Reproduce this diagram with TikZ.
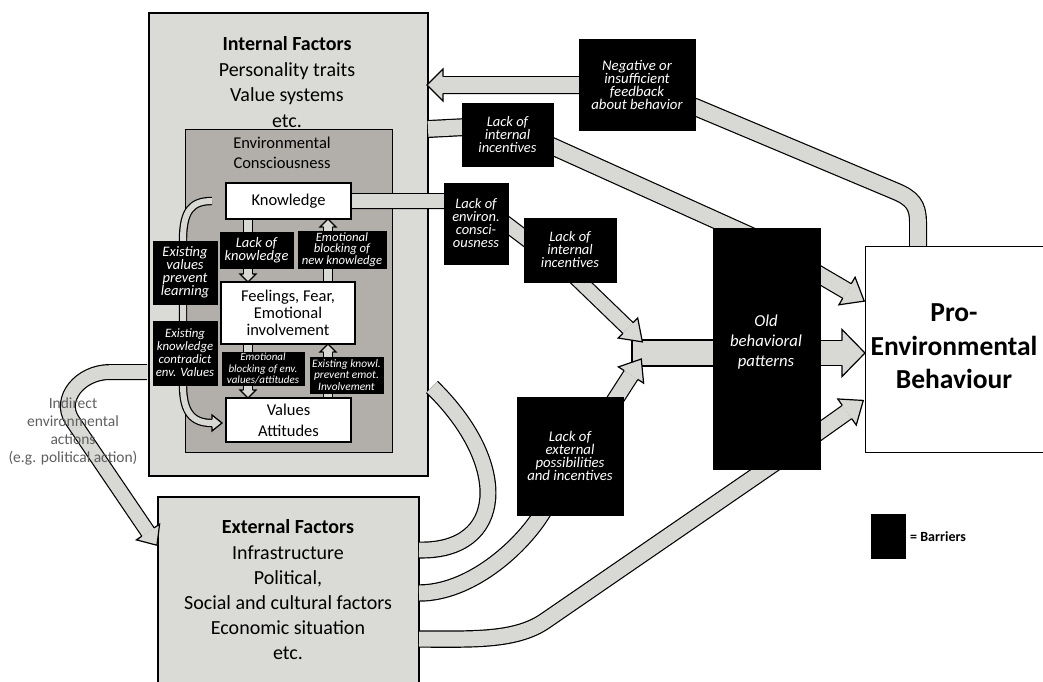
\documentclass[tikz,border=0pt]{standalone}
\usepackage{fontspec}
\setmainfont{Carlito}
\usetikzlibrary{decorations.markings}
\definecolor{boxgray}{RGB}{218,218,214}
\definecolor{ecgray}{RGB}{178,175,170}
\definecolor{arrowgray}{RGB}{216,216,212}
\definecolor{txtgray}{RGB}{95,95,95}
\newcommand\fsz[2]{\fontsize{#1}{#2}\selectfont}
\tikzset{
  head/.style n args={3}{postaction={decorate,decoration={markings,mark=at position 1 with {
    \fill[arrowgray] (0,-#1) -- (0,-#2) -- (#3,0) -- (0,#2) -- (0,#1) -- cycle;
    \draw[black,line width=1.2pt,line join=miter] (0,-#1) -- (0,-#2) -- (#3,0) -- (0,#2) -- (0,#1);}}}},
  barrier/.style={fill=black, draw=black, line width=0.6pt, text=white, align=center, inner sep=0pt},
  panel/.style={draw=black, line width=1.5pt, fill=boxgray, inner sep=0pt, anchor=north west},
  wbox/.style={draw=black, line width=1.3pt, fill=white, inner sep=0pt, align=center},
}
\newcommand\fat[3]{%
  \draw[line width=#1+2.4pt, black, line join=round] #3;
  \draw[line width=#1, arrowgray, line join=round, #2] #3;}
\begin{document}
\begin{tikzpicture}[x=1pt,y=-1pt]
\useasboundingbox (0,0) rectangle (1043,681);
\fill[white] (0,0) rectangle (1043,681);

% panels
\node[panel, minimum width=279pt, minimum height=463pt] (int) at (148,12) {};
\node[panel, minimum width=261pt, minimum height=210pt] (ext) at (157,496) {};
\node[panel, fill=ecgray, line width=1.3pt, minimum width=207pt, minimum height=323pt] (ec) at (185,129) {};

\node[align=center, font=\fsz{20}{25.5}] (intT) at (287,82) {\textbf{Internal Factors}\\Personality traits\\Value systems\\etc.};
\node[align=center, font=\fsz{16.5}{20}] (ecT) at (282,153) {Environmental\\Consciousness};
\node[align=center, font=\fsz{20}{25.2}] (extT) at (288,590) {\textbf{External Factors}\\Infrastructure\\Political,\\Social and cultural factors\\Economic situation\\etc.};

% internal arrows
\fat{7.6pt}{head={4.4pt}{8pt}{8pt}}{(248,219) -- (248,274)}
\fat{7.6pt}{head={4.4pt}{8pt}{8pt}}{(328,282) -- (328,227)}
\fat{7.6pt}{head={4.4pt}{8pt}{8pt}}{(248,344) -- (248,390)}
\fat{7.6pt}{head={4.4pt}{8pt}{8pt}}{(328,398) -- (328,352)}
\fat{6pt}{head={3.6pt}{8pt}{10pt}}{(183,270) -- (183,240) .. controls (183,210) and (192,201) .. (212,201)}
\fat{6pt}{head={3.6pt}{8pt}{10pt}}{(183,270) -- (183,385) .. controls (183,412) and (192,423) .. (212,423)}

% white boxes
\node[wbox, minimum width=125pt, minimum height=36pt, font=\fsz{16.5}{18}] (know) at (288.5,201) {Knowledge};
\node[wbox, minimum width=134pt, minimum height=62pt, font=\fsz{16.5}{17}] (feel) at (288,313) {Feelings, Fear,\\Emotional\\involvement};
\node[wbox, minimum width=125pt, minimum height=44pt, font=\fsz{16.5}{21}] (val) at (288.5,420) {Values\\Attitudes};

% barriers inside
\node[barrier, minimum width=73pt, minimum height=36pt, font=\itshape\fsz{14.5}{13}] (lk) at (256.5,250) {Lack of\\knowledge};
\node[barrier, minimum width=88pt, minimum height=37pt, font=\itshape\fsz{12.7}{11.5}] (ebn) at (342,249.5) {Emotional\\blocking of\\new knowledge};
\node[barrier, minimum width=64pt, minimum height=63pt, font=\itshape\fsz{14.5}{13}] (evp) at (185,272.5) {Existing\\values\\prevent\\learning};
\node[barrier, minimum width=64pt, minimum height=64pt, font=\itshape\fsz{12.8}{13}] (ekc) at (185,353) {Existing\\knowledge\\contradict\\env. Values};
\node[barrier, minimum width=82pt, minimum height=33pt, font=\itshape\fsz{11}{11.5}] (ebe) at (263,368.5) {Emotional\\blocking of env.\\values/attitudes};
\node[barrier, minimum width=73pt, minimum height=36pt, font=\itshape\fsz{11.4}{11.5}] (ekp) at (346.5,375) {Existing knowl.\\prevent emot.\\Involvement};

% big arrows
\fat{15.6pt}{head={8.4pt}{16pt}{16pt}}{(918,252) -- (918,222) .. controls (918,205) and (912,198) .. (895,191) -- (695,107) -- (600,85) -- (443,85)}
\fat{15.6pt}{head={8.4pt}{16pt}{20pt}}{(428,129) -- (505,125) -- (760,240) -- (847,291)}
\draw[fill=arrowgray, line width=1.2pt] (632,340) rectangle (716,366);
\fat{13.6pt}{head={7.4pt}{14pt}{20pt}}{(352,201) -- (476,201) -- (570,272) -- (628,328)}
\fat{15pt}{head={8.1pt}{15pt}{19pt}}{(419,593) .. controls (470,593) and (519.4,548.6) .. (541,515) -- (631,375)}
\fat{15pt}{head={8.1pt}{16pt}{20pt}}{(419,639) .. controls (470,639) and (515,641.6) .. (545,621) -- (785,456) -- (847,412)}
\fat{14.6pt}{head={7.9pt}{15pt}{18pt}}{(419,550) .. controls (505,552) and (512,465) .. (432,387)}
\fat{13.6pt}{head={7.4pt}{14pt}{16pt}}{(147,372) -- (110,372) .. controls (80,372) and (58.4,399) .. (72,420) -- (148,532)}
\fat{23.6pt}{head={12.4pt}{23.5pt}{23pt}}{(818,353) -- (842,353)}

% outside barriers
\node[barrier, minimum width=91pt, minimum height=63pt, font=\itshape\fsz{14.5}{13}] (li1) at (507.5,134.5) {Lack of\\internal\\incentives};
\node[barrier, minimum width=64pt, minimum height=81pt, font=\itshape\fsz{14.5}{13}] (lec) at (476,223.5) {Lack of\\environ.\\consci-\\ousness};
\node[barrier, minimum width=92pt, minimum height=64pt, font=\itshape\fsz{14.5}{13}] (li2) at (570,250) {Lack of\\internal\\incentives};
\node[barrier, minimum width=116pt, minimum height=91pt, font=\itshape\fsz{14.8}{13}] (neg) at (637,84.5) {Negative or\\insufficient\\feedback\\about behavior};
\node[barrier, minimum width=106pt, minimum height=118pt, font=\itshape\fsz{14.8}{13}] (lex) at (570,456) {Lack of\\external\\possibilities\\and incentives};
\node[barrier, minimum width=107pt, minimum height=241pt] (old) at (766.5,348.5) {};
\node[text=white, font=\itshape\fsz{16.7}{20}, align=center] (oldT) at (766,342) {Old\\behavioral\\patterns};

% pro-environmental behaviour
\node[draw, line width=1.3pt, fill=white, anchor=north west, minimum width=200pt, minimum height=206pt, inner sep=0pt] (pro) at (865,246) {};
\node[align=center, font=\bfseries\fsz{27.5}{33.5}] (proT) at (954,346.5) {Pro-\\Environmental\\Behaviour};

% legend
\node[fill=black, anchor=north west, minimum width=35pt, minimum height=45pt, inner sep=0pt] (leg) at (871,514) {};
\node[anchor=west, font=\bfseries\fsz{14}{16}, inner sep=0pt] (legT) at (910,537) {= Barriers};

% indirect text
\node[align=center, text=txtgray, font=\fsz{15.5}{18}] (indT) at (73,431.5) {Indirect\\environmental\\actions\\(e.g. political action)};
\end{tikzpicture}
\end{document}
